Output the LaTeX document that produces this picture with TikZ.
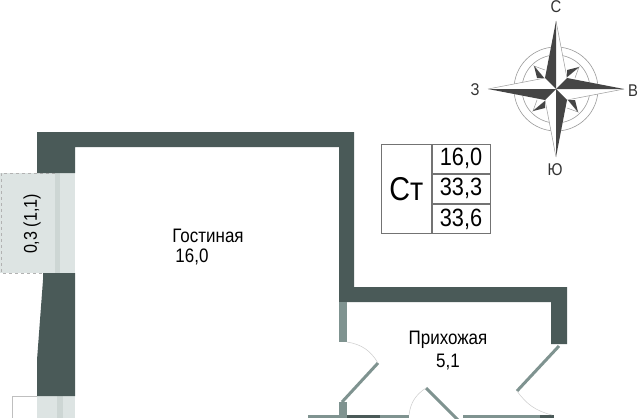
\documentclass[tikz,border=0pt]{standalone}
\usepackage{fontspec}
\setmainfont[FakeStretch=0.87]{Liberation Sans}
\usetikzlibrary{positioning}
\definecolor{wallc}{HTML}{4A5A58}
\definecolor{partc}{HTML}{7F9390}
\definecolor{balc}{HTML}{DDE4E3}
\definecolor{stripc}{HTML}{CDD6D4}
\definecolor{starc}{HTML}{454545}
\definecolor{ringc}{HTML}{9A9A9A}
\begin{document}
\begin{tikzpicture}[x=1pt, y=-1pt, font=\fontsize{19.5}{21}\selectfont,
wall/.style={fill=wallc, draw=none},
part/.style={fill=partc, draw=none},
leaf/.style={draw=partc, line width=3pt},
swing/.style={draw=black!20, line width=0.5pt},
cell/.style={rectangle, draw=black!55, line width=0.6pt, minimum width=58pt, minimum height=29.5pt, inner sep=0pt, font=\fontsize{25}{27}\selectfont},
lettr/.style={inner sep=0pt, text=black!80, font=\fontsize{17}{19}\selectfont}]
\useasboundingbox (0,0) rectangle (640,418);
\fill[white] (0,0) rectangle (640,418);

% Balcony
\fill[balc] (0,173) rectangle (75,273);
\draw[black!30, dashed, line width=1pt] (55,173) -- (1,173) -- (1,273) -- (55,273);
\fill[stripc] (55,171) rectangle (60,275);
\fill[balc] (37,396) rectangle (75,418);
\fill[stripc] (57,396) rectangle (63,418);
\draw[black!25, line width=1pt] (37,396) -- (12,396) -- (12,418);

% Walls
\fill[wall] (37,132) -- (354,132) -- (354,287) -- (567,287) -- (567,344) -- (551,344) -- (551,302) -- (339,302) -- (339,147) -- (75,147) -- (75,173) -- (37,173) -- cycle;
\fill[wall] (43,273) -- (75,273) -- (75,396) -- (37,396) -- (37,360) -- (43,280) -- cycle;
\fill[part] (339,302) rectangle (347,342);
\fill[part] (339,402) rectangle (347,418);
\fill[part] (308,415) rectangle (339,418);
\fill[wall] (347,415) rectangle (380,418);
\fill[part] (380,415) rectangle (409,418);
\fill[part] (463,415) rectangle (540,418);
\fill[wall] (540,415) rectangle (554,418);

% Doors
\draw[leaf] (342,402) -- (378,363);
\draw[swing] (347,342) to[bend left=25] (378,363);
\draw[leaf] (426,388) -- (458,420);
\draw[swing] (426,388) to[bend right=25] (409,415);
\draw[leaf] (559,346) -- (517,391);
\draw[swing] (517,391) to[bend right=20] (552,415);

% Labels
\node[inner sep=0pt] (living) at (208,236) {Гостиная};
\node[inner sep=0pt] (livingarea) at (192,257) {16,0};
\node[inner sep=0pt] (hall) at (448,340) {Прихожая};
\node[inner sep=0pt] (hallarea) at (448,362) {5,1};
\node[inner sep=0pt, rotate=90, font=\fontsize{18.5}{20}\selectfont] (balcony) at (32,224) {0,3 (1,1)};

% Table
\node[cell] (area1) at (461,158.75) {16,0};
\node[cell, below=0pt of area1] (area2) {33,3};
\node[cell, below=0pt of area2] (area3) {33,6};
\node[rectangle, draw=black!55, line width=0.6pt, minimum width=50pt, minimum height=88.5pt, inner sep=0pt, left=0pt of area2, font=\fontsize{33}{35}\selectfont] (type) {Ст};

% Compass
\coordinate (center) at (556,89);
\draw[ringc, line width=0.6pt] (center) circle (42);
\draw[ringc, line width=0.6pt] (center) circle (34);
\foreach \ang in {0,90,180,270}{
  \begin{scope}[shift={(center)}, rotate=\ang]
    \fill[white] (11,-12) -- (23,-22) -- (19,-11) -- cycle;
    \draw[ringc, line width=0.5pt] (11,-12) -- (23,-22) -- (19,-11);
    \fill[starc] (11,-12) -- (23,-22) -- (11,-19) -- cycle;
  \end{scope}
}
\foreach \ang in {0,90,180,270}{
  \begin{scope}[shift={(center)}, rotate=\ang]
    \fill[white] (0,0) -- (0,-68) -- (11,-11) -- cycle;
    \fill[white] (0,0) -- (0,-68) -- (-11,-11) -- cycle;
    \draw[ringc, line width=0.5pt] (0,-68) -- (11,-11);
  \end{scope}
}
\foreach \ang in {0,90,180,270}{
  \begin{scope}[shift={(center)}, rotate=\ang]
    \fill[starc] (0,0) -- (0,-68) -- (-11,-11) -- cycle;
  \end{scope}
}
\node[lettr] (north) at (556,7) {С};
\node[lettr] (south) at (555,170) {Ю};
\node[lettr] (west) at (475,90) {З};
\node[lettr] (east) at (633,91) {В};
\end{tikzpicture}
\end{document}
